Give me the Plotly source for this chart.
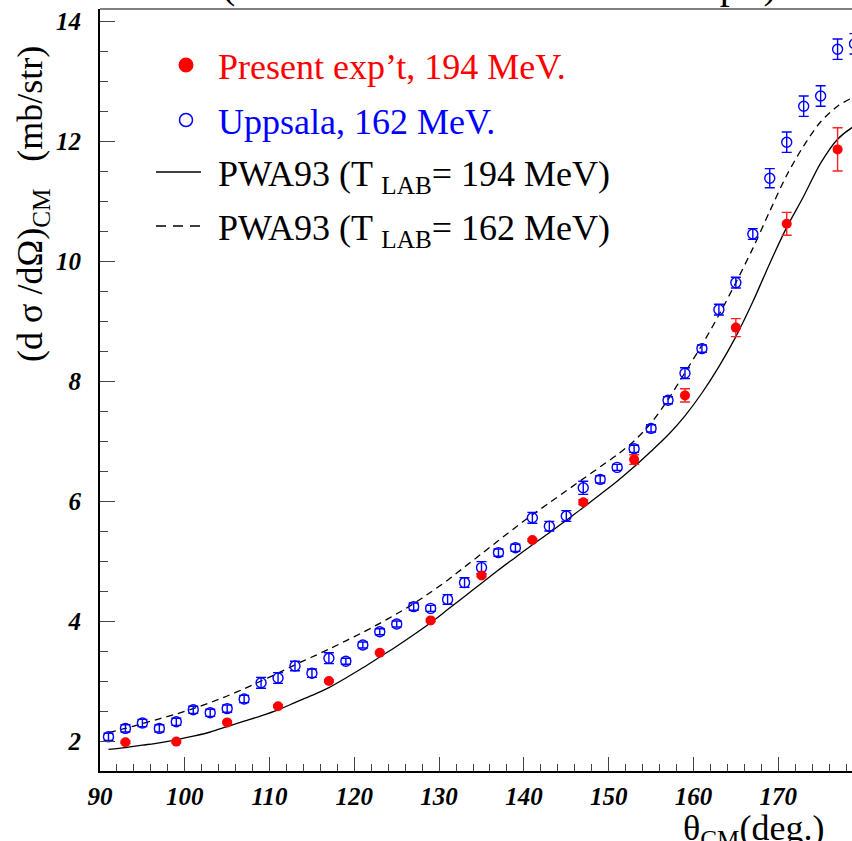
import plotly.graph_objects as go

# ---------------- data ----------------
present_theta = [93, 99, 105, 111, 117, 123, 129, 135, 141, 147, 153, 159, 165, 171, 177]
present_xs = [1.98, 1.99, 2.31, 2.58, 3.00, 3.47, 4.01, 4.76, 5.35, 5.98, 6.69, 7.76, 8.89, 10.62, 11.86]
present_err = [0.02, 0.02, 0.02, 0.02, 0.02, 0.02, 0.02, 0.02, 0.02, 0.04, 0.08, 0.11, 0.15, 0.19, 0.36]

uppsala_theta = list(range(91, 181, 2))
uppsala_xs = [2.07, 2.21, 2.30, 2.21, 2.32, 2.52, 2.47, 2.54, 2.70, 2.97,
              3.05, 3.25, 3.13, 3.38, 3.33, 3.60, 3.82, 3.95, 4.24, 4.21,
              4.36, 4.64, 4.89, 5.14, 5.22, 5.72, 5.58, 5.75, 6.22, 6.36,
              6.56, 6.87, 7.21, 7.68, 8.13, 8.54, 9.19, 9.64, 10.45, 11.38,
              11.98, 12.58, 12.75, 13.53, 13.62]
uppsala_err = [0.06, 0.06, 0.06, 0.06, 0.06, 0.06, 0.06, 0.06, 0.06, 0.09,
               0.09, 0.08, 0.07, 0.09, 0.05, 0.05, 0.05, 0.05, 0.06, 0.05,
               0.08, 0.08, 0.10, 0.06, 0.06, 0.09, 0.08, 0.09, 0.11, 0.06,
               0.05, 0.06, 0.06, 0.06, 0.09, 0.06, 0.09, 0.09, 0.09, 0.16,
               0.17, 0.17, 0.17, 0.17, 0.17]

curve_theta = list(range(91, 181, 2)) + [180]
pwa_194 = [1.86, 1.89, 1.93, 1.97, 2.02, 2.08, 2.15, 2.24, 2.33, 2.42,
           2.52, 2.64, 2.76, 2.89, 3.05, 3.22, 3.40, 3.58, 3.77, 3.97,
           4.19, 4.41, 4.63, 4.85, 5.06, 5.27, 5.47, 5.68, 5.89, 6.11,
           6.33, 6.57, 6.83, 7.10, 7.42, 7.80, 8.24, 8.74, 9.32, 9.96,
           10.56, 11.08, 11.63, 12.03, 12.25, 12.32]
pwa_162 = [2.14, 2.21, 2.29, 2.37, 2.45, 2.54, 2.64, 2.75, 2.87, 3.00,
           3.13, 3.27, 3.40, 3.53, 3.67, 3.81, 3.96, 4.12, 4.29, 4.48,
           4.68, 4.90, 5.12, 5.34, 5.56, 5.77, 5.97, 6.17, 6.37, 6.57,
           6.77, 7.00, 7.30, 7.69, 8.14, 8.60, 9.10, 9.64, 10.21, 10.83,
           11.43, 11.92, 12.32, 12.58, 12.74, 12.80]

x_tickvals = [90, 100, 110, 120, 130, 140, 150, 160, 170]
y_tickvals = [2, 4, 6, 8, 10, 12, 14]

legend_labels = ["Present exp’t, 194 MeV.",
                 "Uppsala, 162 MeV.",
                 "PWA93 (T <sub>LAB</sub>= 194 MeV)",
                 "PWA93 (T <sub>LAB</sub>= 162 MeV)"]

# ---------------- layout geometry ----------------
W, H = 852, 841
L, R, T, B = 100, 0, 9, 70
PW, PH = W - L - R, H - T - B
SERIF = "Liberation Serif"


def px(x):
    return (x - L) / PW


def py(y):
    return (H - B - y) / PH


fig = go.Figure()

fig.add_trace(go.Scatter(x=curve_theta, y=pwa_194, mode="lines",
                         line=dict(color="black", width=1.3, shape="spline", smoothing=0.8),
                         showlegend=False, hoverinfo="skip"))
fig.add_trace(go.Scatter(x=curve_theta, y=pwa_162, mode="lines",
                         line=dict(color="black", width=1.3, dash="7px,5px",
                                   shape="spline", smoothing=0.8),
                         showlegend=False, hoverinfo="skip"))
fig.add_trace(go.Scatter(x=uppsala_theta, y=uppsala_xs, mode="markers",
                         marker=dict(symbol="circle-open", size=10, color="#0000ff",
                                     line=dict(width=1.4, color="#0000ff")),
                         error_y=dict(type="data", array=uppsala_err, color="#0000ff",
                                      thickness=1.4, width=5),
                         showlegend=False))
fig.add_trace(go.Scatter(x=present_theta, y=present_xs, mode="markers",
                         marker=dict(symbol="circle", size=10, color="#ff0000"),
                         error_y=dict(type="data", array=present_err, color="#ff2020",
                                      thickness=1.4, width=5),
                         showlegend=False))

tickfont = dict(family=SERIF, size=25, color="black", weight="bold", style="italic")

fig.update_xaxes(range=[90, 178.7], tickvals=x_tickvals, ticks="inside", ticklen=14,
                 tickwidth=1.3, tickcolor="#444", showline=True, linecolor="black",
                 linewidth=2, showgrid=False, zeroline=False, tickfont=tickfont,
                 ticklabelstandoff=2, automargin=False,
                 minor=dict(dtick=2, ticks="inside", ticklen=7, tickwidth=1.2,
                            tickcolor="#444", showgrid=False))
fig.update_yaxes(range=[1.5, 14.2], tickvals=y_tickvals, ticks="inside", ticklen=15,
                 tickwidth=1.3, tickcolor="#444", showline=True, linecolor="black",
                 linewidth=2, showgrid=False, zeroline=False, tickfont=tickfont,
                 ticklabelstandoff=12, automargin=False,
                 minor=dict(dtick=0.5, ticks="inside", ticklen=8, tickwidth=1.2,
                            tickcolor="#444", showgrid=False))

shapes = []
# top frame line
shapes.append(dict(type="line", xref="paper", yref="paper", x0=0, x1=1, y0=1, y1=1,
                   line=dict(color="#808080", width=2)))
# legend symbols
shapes.append(dict(type="circle", xref="paper", yref="paper", xsizemode="pixel",
                   ysizemode="pixel", xanchor=px(186), yanchor=py(65),
                   x0=-7.5, x1=7.5, y0=-7.5, y1=7.5,
                   fillcolor="#ff0000", line=dict(color="#ff0000", width=0)))
shapes.append(dict(type="circle", xref="paper", yref="paper", xsizemode="pixel",
                   ysizemode="pixel", xanchor=px(186), yanchor=py(120),
                   x0=-6.5, x1=6.5, y0=-6.5, y1=6.5,
                   line=dict(color="#0000ff", width=1.5)))
shapes.append(dict(type="line", xref="paper", yref="paper", x0=px(156), x1=px(201),
                   y0=py(172), y1=py(172), line=dict(color="black", width=1.3)))
shapes.append(dict(type="line", xref="paper", yref="paper", x0=px(156), x1=px(201),
                   y0=py(226), y1=py(226),
                   line=dict(color="black", width=1.3, dash="10px,7px")))

annotations = []
leg_colors = ["#ff0000", "#0000ff", "black", "black"]
leg_y = [67, 122, 176, 230]
for lab, col, yy in zip(legend_labels, leg_colors, leg_y):
    annotations.append(dict(text=lab, xref="paper", yref="paper", x=px(216), y=py(yy),
                            xanchor="left", yanchor="middle", showarrow=False,
                            font=dict(family=SERIF, size=36, color=col)))

# y-axis title
annotations.append(dict(text="(d\u00a0σ\u00a0/dΩ)<sub>CM</sub>\u00a0\u00a0\u00a0(mb/str)",
                        xref="paper", yref="paper", x=px(32), y=py(204),
                        xanchor="center", yanchor="middle", textangle=-90,
                        showarrow=False,
                        font=dict(family=SERIF, size=36, color="black")))
# x-axis title
annotations.append(dict(text="θ<sub>CM</sub>(deg.)", xref="paper", yref="paper",
                        x=px(826), y=py(806), xanchor="right", yanchor="top",
                        showarrow=False,
                        font=dict(family=SERIF, size=36, color="black")))
# cropped title remnants above the frame
annotations.append(dict(text="(", xref="paper", yref="paper", x=px(220), y=py(9),
                        xanchor="left", yanchor="bottom", showarrow=False,
                        font=dict(family=SERIF, size=40, color="black")))
annotations.append(dict(text="exp’t)", xref="paper", yref="paper", x=px(779), y=py(9),
                        xanchor="right", yanchor="bottom", showarrow=False,
                        font=dict(family=SERIF, size=40, color="black")))

fig.update_layout(width=W, height=H, margin=dict(l=L, r=R, t=T, b=B, autoexpand=False),
                  paper_bgcolor="white", plot_bgcolor="white",
                  shapes=shapes, annotations=annotations, showlegend=False)

fig.write_html("out.html", config={"displayModeBar": False},
               post_script="document.body.style.margin='0px';document.body.style.overflow='hidden';")
